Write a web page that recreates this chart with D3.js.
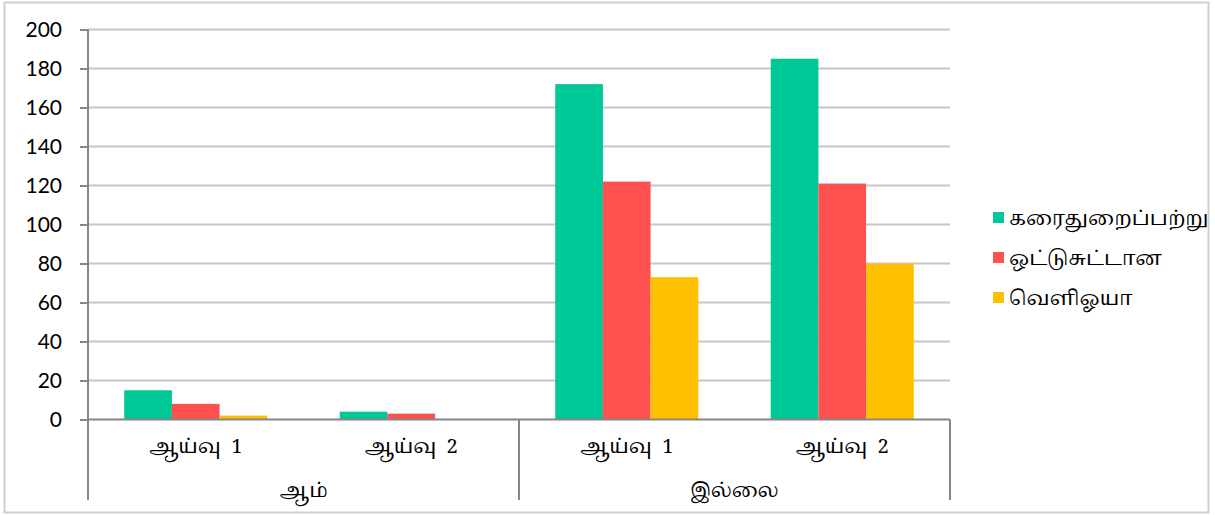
<!DOCTYPE html>
<html>
<head>
<meta charset="utf-8">
<script src="https://cdnjs.cloudflare.com/ajax/libs/d3/7.8.5/d3.min.js"></script>
<style>
  body { margin: 0; background: #fff; }
  .grid line { stroke: #c6c6c6; stroke-width: 2px; }
  .axis path, .axis line { stroke: #868686; stroke-width: 2px; }
  .ytick text { font-family: Lato, "Open Sans", sans-serif; font-size: 21px; fill: #000; }
  .tamil { font-family: "Noto Serif Tamil", "Noto Sans Tamil", "Lohit Tamil", serif; fill: #000; }
</style>
</head>
<body>
<svg id="chart" width="1215" height="515"></svg>
<script>
// data
var groups = ["ஆம்", "இல்லை"];
var subCats = ["ஆய்வு  1", "ஆய்வு  2"];
var seriesNames = ["கரைதுறைப்பற்று", "ஒட்டுசுட்டான", "வெளிஓயா"];
var seriesColors = ["#00C896", "#FF5050", "#FFC000"];
// values per category (ஆம்/ஆய்வு 1, ஆம்/ஆய்வு 2, இல்லை/ஆய்வு 1, இல்லை/ஆய்வு 2)
var karaithuraipattru = [15, 4, 172, 185];
var oddusuddan = [8, 3, 122, 121];
var veliOya = [2, 0, 73, 80];
var yTicks = [0, 20, 40, 60, 80, 100, 120, 140, 160, 180, 200];

var seriesValues = [karaithuraipattru, oddusuddan, veliOya];
var categories = [];
groups.forEach(function(g) {
  subCats.forEach(function(s) { categories.push(g + "|" + s); });
});

var svg = d3.select("#chart");
var plot = {left: 88, right: 950, top: 29.5, bottom: 419.5};

// outer frame
svg.append("rect")
  .attr("x", 4.5).attr("y", 2.5)
  .attr("width", 1204).attr("height", 510)
  .attr("fill", "none").attr("stroke", "#d0d0d0").attr("stroke-width", 2);

var x = d3.scaleBand().domain(categories).range([plot.left, plot.right]).paddingInner(0).paddingOuter(0);
var xs = d3.scaleBand().domain(d3.range(seriesNames.length)).range([0, x.bandwidth()]).paddingInner(0).paddingOuter(0.76);
var y = d3.scaleLinear().domain([0, 200]).range([plot.bottom, plot.top]);

// gridlines
svg.append("g").attr("class", "grid")
  .selectAll("line").data(yTicks.slice(1)).enter().append("line")
  .attr("x1", plot.left).attr("x2", plot.right)
  .attr("y1", function(d) { return y(d); }).attr("y2", function(d) { return y(d); });

// bars
var cat = svg.selectAll(".cat")
  .data(categories).enter().append("g")
  .attr("class", "cat")
  .attr("transform", function(d) { return "translate(" + x(d) + ",0)"; });

cat.selectAll("rect")
  .data(function(d, i) { return seriesValues.map(function(v, j) { return {s: j, v: v[i]}; }); })
  .enter().append("rect")
  .attr("x", function(d) { return xs(d.s); })
  .attr("width", xs.bandwidth())
  .attr("y", function(d) { return y(d.v); })
  .attr("height", function(d) { return y(0) - y(d.v); })
  .attr("fill", function(d) { return seriesColors[d.s]; });

// y axis
var yAxis = svg.append("g").attr("class", "axis ytick")
  .attr("transform", "translate(" + plot.left + ",0)")
  .call(d3.axisLeft(y).tickValues(yTicks).tickSize(8).tickPadding(18).tickSizeOuter(0));
yAxis.select(".domain").remove();
svg.append("line").attr("class", "axis")
  .attr("x1", plot.left).attr("x2", plot.left).attr("y1", plot.top).attr("y2", 500)
  .attr("stroke", "#868686").attr("stroke-width", 2);

// x axis baseline
svg.append("line")
  .attr("x1", plot.left).attr("x2", plot.right).attr("y1", y(0)).attr("y2", y(0))
  .attr("stroke", "#868686").attr("stroke-width", 2);

// group separators
var groupEdges = [1, 2].map(function(i) { return x(categories[i * subCats.length - 1]) + x.bandwidth(); });
svg.selectAll(".sep").data(groupEdges).enter().append("line")
  .attr("x1", function(d) { return d; }).attr("x2", function(d) { return d; })
  .attr("y1", y(0)).attr("y2", 500)
  .attr("stroke", "#868686").attr("stroke-width", 2);

// category labels
svg.selectAll(".clab").data(categories).enter().append("text")
  .attr("class", "tamil")
  .attr("x", function(d) { return x(d) + x.bandwidth() / 2; })
  .attr("y", 453)
  .attr("text-anchor", "middle")
  .style("font-size", "20px")
  .style("white-space", "pre")
  .text(function(d) { return d.split("|")[1]; });

// group labels
svg.selectAll(".glab").data(groups).enter().append("text")
  .attr("class", "tamil")
  .attr("x", function(g) { return x(g + "|" + subCats[0]) + x.bandwidth() * subCats.length / 2; })
  .attr("y", 497)
  .attr("text-anchor", "middle")
  .style("font-size", "20px")
  .text(function(g) { return g; });

// legend
var legend = svg.selectAll(".legend").data(seriesNames).enter().append("g")
  .attr("class", "legend")
  .attr("transform", function(d, i) { return "translate(993," + (218 + i * 40) + ")"; });
legend.append("rect")
  .attr("x", 0).attr("y", -6).attr("width", 11).attr("height", 11)
  .attr("fill", function(d, i) { return seriesColors[i]; });
legend.append("text")
  .attr("class", "tamil")
  .attr("x", 16).attr("y", 0).attr("dy", "0.35em")
  .style("font-size", "20px")
  .text(function(d) { return d; });
</script>
</body>
</html>
